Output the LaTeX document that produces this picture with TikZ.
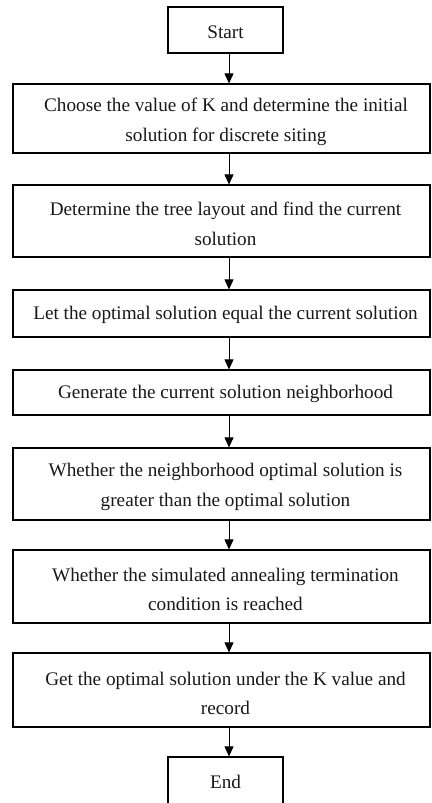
\documentclass[tikz,border=0pt]{standalone}
\usepackage{fontspec}
\setmainfont{Liberation Serif}
\usetikzlibrary{arrows.meta,calc}
\begin{document}
\begin{tikzpicture}[x=1pt,y=-1pt,
  box/.style={draw=black,line width=1.2pt,inner sep=0pt},
  wide/.style={box,minimum width=417pt},
  small/.style={box,minimum width=115pt},
  txt/.style={inner sep=0pt,align=center,font=\fontsize{19.2}{29.5}\selectfont,text=black!90},
  arr/.style={line width=0.9pt,-{Triangle[width=9pt,length=10pt]}}]
\useasboundingbox (0,0) rectangle (431,803);
\fill[white] (0,0) rectangle (431,803);
\node[small,minimum height=46pt] (s) at (225.5,30) {};
\node[txt] (st) at ($(s)+(0,2)$) {Start};
\node[wide,minimum height=69pt] (b2) at (221.5,118.5) {};
\node[txt] (b2t) at ($(b2)+(4.5,3.5)$) {Choose the value of K and determine the initial\\solution for discrete siting};
\node[wide,minimum height=72pt] (b3) at (221.5,221) {};
\node[txt] (b3t) at ($(b3)+(4,3)$) {Determine the tree layout and find the current\\solution};
\node[wide,minimum height=47pt] (b4) at (221.5,313.5) {};
\node[txt] (b4t) at ($(b4)+(4,1.5)$) {Let the optimal solution equal the current solution};
\node[wide,minimum height=45pt] (b5) at (221.5,392.5) {};
\node[txt] (b5t) at ($(b5)+(4,1.5)$) {Generate the current solution neighborhood};
\node[wide,minimum height=72pt] (b6) at (221.5,484) {};
\node[txt] (b6t) at ($(b6)+(4,3)$) {Whether the neighborhood optimal solution is\\greater than the optimal solution};
\node[wide,minimum height=73pt] (b7) at (221.5,586.5) {};
\node[txt] (b7t) at ($(b7)+(4,3)$) {Whether the simulated annealing termination\\condition is reached};
\node[wide,minimum height=74pt] (b8) at (221.5,690) {};
\node[txt] (b8t) at ($(b8)+(4,3.5)$) {Get the optimal solution under the K value and\\record};
\node[small,minimum height=48pt] (e) at (225.5,781) {};
\node[txt] (et) at ($(e)+(0,1)$) {End};
\coordinate (ax) at (229,0);
\draw[arr] (s.south -| ax) -- (b2.north -| ax);
\draw[arr] (b2.south -| ax) -- (b3.north -| ax);
\draw[arr] (b3.south -| ax) -- (b4.north -| ax);
\draw[arr] (b4.south -| ax) -- (b5.north -| ax);
\draw[arr] (b5.south -| ax) -- (b6.north -| ax);
\draw[arr] (b6.south -| ax) -- (b7.north -| ax);
\draw[arr] (b7.south -| ax) -- (b8.north -| ax);
\draw[arr] (b8.south -| ax) -- (e.north -| ax);
\end{tikzpicture}
\end{document}
